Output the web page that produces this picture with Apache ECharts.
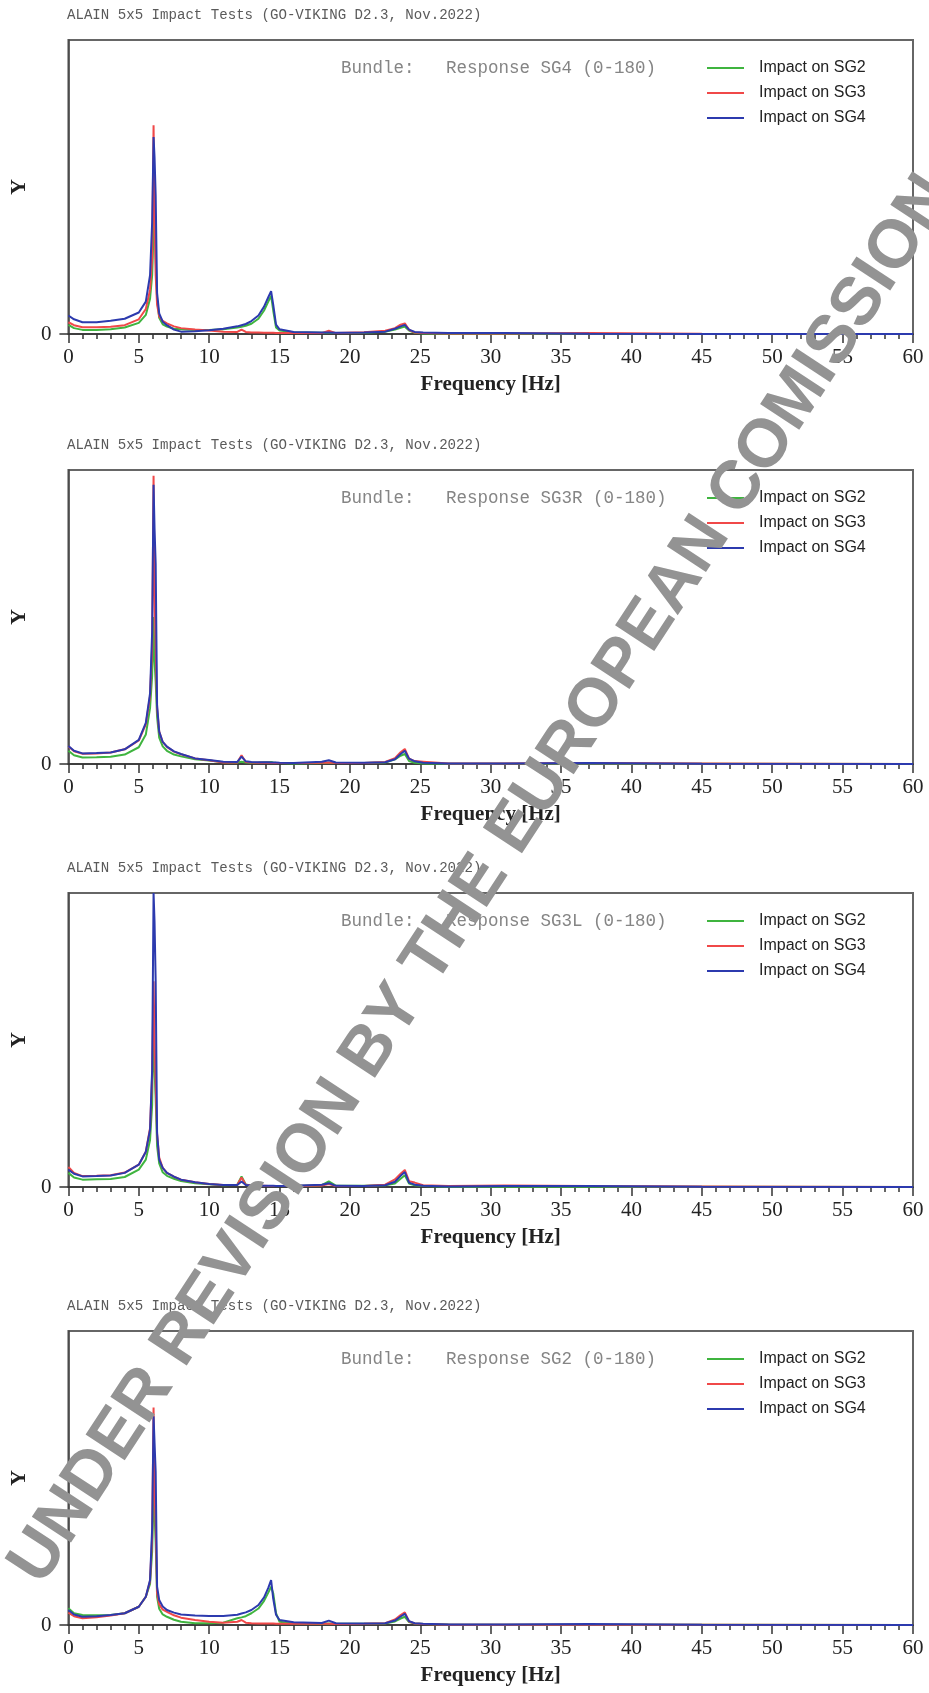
<!DOCTYPE html>
<html style="height: 100%">
<head>
    <meta charset="utf-8" />
    <title>ALAIN 5x5 Impact Tests</title>
    <script type="text/javascript" src="https://cdn.jsdelivr.net/npm/echarts@6/dist/echarts.min.js"></script>
</head>
<body style="height: 100%; margin: 0; background: #fff">
<div id="chart" style="width: 929px; height: 1693px"></div>
<script type="text/javascript">
// frequency grid [Hz], shared by all four panels
var freq = [0, 0.4, 1, 2, 3, 4, 5, 5.5, 5.8, 5.95,
            6.05, 6.12, 6.2, 6.3, 6.45, 6.7, 7, 7.5, 8, 9,
            10, 11, 12, 12.3, 12.6, 13, 13.5, 13.9, 14.2, 14.4,
            14.55, 14.75, 15, 16, 18, 18.5, 19, 21, 22.5, 23.2,
            23.6, 23.9, 24.2, 24.6, 25.2, 27, 31, 37, 45, 60];

// Response SG4
var sg4_imp2 = [3.1, 2.0, 1.4, 1.4, 1.6, 2.2, 3.8, 6.5, 12, 20,
                35, 43, 26, 12, 5.5, 3.3, 2.5, 1.8, 1.6, 1.4,
                1.4, 1.6, 2.2, 2.5, 2.8, 3.5, 5.2, 8.0, 11, 13,
                8, 2.2, 1.2, 0.6, 0.4, 0.4, 0.3, 0.4, 0.8, 1.5,
                2.1, 2.5, 1.2, 0.4, 0.2, 0.1, 0.1, 0.05, 0, 0];
var sg4_imp3 = [4.0, 3.0, 2.3, 2.3, 2.5, 3.0, 5.0, 8.5, 15, 26,
                71, 40, 20, 10, 6, 4.5, 3.6, 2.6, 2.0, 1.5,
                1.2, 0.8, 0.7, 1.5, 0.7, 0.5, 0.5, 0.4, 0.4, 0.4,
                0.4, 0.3, 0.3, 0.3, 0.3, 1.1, 0.3, 0.6, 1.1, 2.0,
                3.2, 3.6, 1.4, 0.5, 0.3, 0.2, 0.2, 0.3, 0.1, 0];
var sg4_imp4 = [6.3, 5.0, 4.0, 4.0, 4.5, 5.2, 7.3, 11, 20, 38,
                67, 60, 47, 14, 7, 4.2, 3.0, 1.5, 0.8, 0.9,
                1.3, 1.8, 2.6, 3.0, 3.4, 4.4, 6.3, 9.3, 12.5, 14.6,
                10, 3.2, 1.6, 0.7, 0.5, 0.5, 0.4, 0.5, 0.8, 1.8,
                2.6, 3.1, 1.5, 0.7, 0.5, 0.3, 0.3, 0.1, 0, 0];

// Response SG3R
var sg3r_imp2 = [4.5, 3.0, 2.2, 2.3, 2.5, 3.2, 5.7, 10, 19, 30,
                 50, 35, 28, 16, 9, 6, 4.5, 3.2, 2.6, 1.6,
                 1.2, 0.6, 0.5, 0.8, 0.5, 0.4, 0.5, 0.6, 0.6, 0.7,
                 0.5, 0.4, 0.3, 0.2, 0.3, 0.4, 0.3, 0.3, 0.5, 1.6,
                 2.8, 3.4, 1.0, 0.4, 0.2, 0.1, 0.1, 0.1, 0.05, 0];
var sg3r_imp3 = [6.0, 4.3, 3.5, 3.6, 3.9, 5.0, 8.0, 13.5, 23, 40,
                 98, 58, 40, 19, 11, 7.5, 5.8, 4.2, 3.3, 1.9,
                 1.3, 0.5, 0.5, 3.0, 0.7, 0.5, 0.4, 0.4, 0.4, 0.3,
                 0.3, 0.3, 0.3, 0.3, 0.4, 0.5, 0.3, 0.3, 0.7, 2.0,
                 4.0, 5.1, 1.8, 1.0, 0.8, 0.2, 0.2, 0.3, 0.2, 0];
var sg3r_imp4 = [6.1, 4.5, 3.6, 3.7, 3.9, 5.0, 8.2, 14, 24, 45,
                 95, 80, 68, 20, 11, 7.5, 5.9, 4.3, 3.4, 1.9,
                 1.4, 0.8, 0.7, 2.5, 0.9, 0.7, 0.6, 0.6, 0.6, 0.5,
                 0.5, 0.5, 0.4, 0.3, 0.8, 1.3, 0.5, 0.4, 0.6, 1.6,
                 3.4, 4.5, 1.8, 0.9, 0.4, 0.2, 0.2, 0.3, 0.1, 0];

// Response SG3L
var sg3l_imp2 = [4.8, 3.2, 2.5, 2.6, 2.7, 3.4, 5.9, 9.3, 16, 28,
                 62, 40, 30, 14, 8, 5, 3.8, 2.8, 2.0, 1.3,
                 0.9, 0.6, 0.8, 3.6, 0.9, 0.4, 0.3, 0.3, 0.3, 0.3,
                 0.3, 0.3, 0.3, 0.3, 0.6, 1.9, 0.5, 0.4, 0.6, 1.2,
                 2.8, 4.0, 1.2, 0.6, 0.3, 0.1, 0.1, 0.1, 0.1, 0];
var sg3l_imp3 = [6.8, 4.8, 3.7, 3.8, 4.0, 4.9, 7.6, 12, 20, 38,
                 70, 50, 35, 18, 10, 6.5, 4.8, 3.5, 2.5, 1.6,
                 1.0, 0.7, 0.8, 3.2, 0.8, 0.5, 0.4, 0.4, 0.3, 0.3,
                 0.3, 0.3, 0.3, 0.3, 0.5, 1.0, 0.3, 0.3, 0.8, 2.6,
                 4.5, 5.8, 2.0, 1.5, 0.6, 0.3, 0.5, 0.3, 0.2, 0];
var sg3l_imp4 = [5.9, 4.5, 3.6, 3.7, 3.9, 4.8, 7.6, 12, 19.5, 40,
                 100, 90, 70, 18.4, 9.3, 6.5, 4.8, 3.5, 2.5, 1.6,
                 1.0, 0.7, 0.7, 1.9, 0.7, 0.5, 0.4, 0.4, 0.4, 0.4,
                 0.4, 0.3, 0.3, 0.4, 0.8, 1.3, 0.4, 0.3, 0.6, 1.8,
                 3.8, 5.1, 1.5, 0.8, 0.4, 0.2, 0.3, 0.3, 0.1, 0];

// Response SG2
var sg2_imp2 = [5.7, 4.0, 3.4, 3.3, 3.4, 4.0, 6.2, 9.6, 14, 25,
                45, 38, 28, 9.6, 5.5, 3.6, 2.8, 1.8, 1.1, 0.6,
                0.6, 0.8, 2.3, 2.6, 3.0, 4.0, 5.6, 8.2, 11, 13,
                10.8, 4, 1.1, 0.5, 0.4, 0.5, 0.4, 0.4, 0.5, 1.2,
                2.2, 2.8, 1.0, 0.5, 0.3, 0.2, 0.1, 0.1, 0.1, 0];
var sg2_imp3 = [4.2, 3.0, 2.3, 2.6, 3.2, 4.0, 6.2, 9.6, 15, 30,
                74, 45, 35, 10.8, 7, 5.2, 4.5, 3.3, 2.5, 1.7,
                1.1, 0.8, 1.1, 1.7, 0.8, 0.6, 0.5, 0.5, 0.5, 0.5,
                0.5, 0.4, 0.4, 0.4, 0.4, 0.4, 0.3, 0.4, 0.6, 1.9,
                3.4, 4.3, 1.2, 0.5, 0.3, 0.1, 0.1, 0.1, 0.1, 0];
var sg2_imp4 = [5.1, 3.6, 2.8, 3.0, 3.4, 4.0, 6.2, 9.6, 15.3, 33,
                71, 62, 52, 13, 8.5, 6.3, 5.1, 4.2, 3.6, 3.2,
                3.1, 3.1, 3.5, 3.9, 4.3, 5.1, 6.8, 9.4, 12.6, 15.3,
                9, 3.5, 1.7, 0.9, 0.7, 1.5, 0.6, 0.5, 0.6, 1.5,
                2.9, 3.8, 1.3, 0.6, 0.4, 0.2, 0.2, 0.3, 0.1, 0];

var seriesNames = ['Impact on SG2', 'Impact on SG3', 'Impact on SG4'];
var seriesColors = ['#3fb43f', '#f04848', '#2c3aae'];
var headerText = 'ALAIN 5x5 Impact Tests (GO-VIKING D2.3, Nov.2022)';
var bundleTexts = ['Bundle:   Response SG4 (0-180)',
                   'Bundle:   Response SG3R (0-180)',
                   'Bundle:   Response SG3L (0-180)',
                   'Bundle:   Response SG2 (0-180)'];
var xTicks = [0, 5, 10, 15, 20, 25, 30, 35, 40, 45, 50, 55, 60];
var panelData = [
  [sg4_imp2, sg4_imp3, sg4_imp4],
  [sg3r_imp2, sg3r_imp3, sg3r_imp4],
  [sg3l_imp2, sg3l_imp3, sg3l_imp4],
  [sg2_imp2, sg2_imp3, sg2_imp4]
];

var frameTops = [40, 470, 893, 1331];
var frameH = 294;
var serif = "'Liberation Serif', 'DejaVu Serif', serif";
var mono = "'Liberation Mono', 'DejaVu Sans Mono', monospace";
var sans = "'Liberation Sans', 'DejaVu Sans', sans-serif";

function pairs(xs, ys) {
  return xs.map(function (x, i) { return [x, ys[i]]; });
}

var myChart = echarts.init(document.getElementById('chart'), null, { renderer: 'canvas' });

var grids = [], xAxes = [], yAxes = [], titles = [], legends = [], series = [];
frameTops.forEach(function (top, p) {
  grids.push({
    left: 67, right: 16, top: top, height: frameH,
    show: true, borderColor: '#666', borderWidth: 2, backgroundColor: '#fff'
  });
  xAxes.push({
    gridIndex: p, type: 'value', min: xTicks[0], max: xTicks[xTicks.length - 1], interval: 5,
    name: 'Frequency [Hz]', nameLocation: 'middle', nameGap: 40,
    nameTextStyle: { fontFamily: serif, fontWeight: 'bold', fontSize: 21, color: '#222' },
    axisLine: { lineStyle: { color: '#333', width: 1.5 } },
    axisTick: { length: 9, lineStyle: { color: '#333', width: 1.5 } },
    minorTick: { show: true, splitNumber: 5, length: 5, lineStyle: { color: '#333', width: 1.5 } },
    axisLabel: { fontFamily: serif, fontSize: 21, color: '#222', margin: 13 },
    splitLine: { show: false }
  });
  yAxes.push({
    gridIndex: p, type: 'value', min: 0, max: 100, interval: 100,
    name: 'Y', nameLocation: 'middle', nameGap: 36,
    nameTextStyle: { fontFamily: serif, fontWeight: 'bold', fontSize: 22, color: '#222' },
    axisLine: { show: true, lineStyle: { color: '#444', width: 1.5 } },
    axisTick: { show: true, length: 9, customValues: [0], lineStyle: { color: '#333', width: 1.5 } },
    axisLabel: {
      fontFamily: serif, fontSize: 21, color: '#222', margin: 17, customValues: [0],
      formatter: function (v) { return v === 0 ? '0' : ''; }
    },
    splitLine: { show: false }
  });
  titles.push({
    text: headerText, left: 67, top: top - 32, padding: 0,
    textStyle: { fontFamily: mono, fontWeight: 'normal', fontSize: 14.1, color: '#5a5a5a' }
  });
  titles.push({
    text: bundleTexts[p], left: 341, top: top + 19, padding: 0,
    textStyle: { fontFamily: mono, fontWeight: 'normal', fontSize: 17.5, color: '#858585' }
  });
  legends.push({
    data: seriesNames, orient: 'vertical', left: 707, top: top + 19, padding: 0,
    icon: 'rect', itemWidth: 37, itemHeight: 2, itemGap: 7, selectedMode: false,
    textStyle: { fontFamily: sans, fontSize: 16, color: '#222', lineHeight: 18, padding: [0, 0, 0, 10] }
  });
  panelData[p].forEach(function (vals, s) {
    series.push({
      name: seriesNames[s], type: 'line', xAxisIndex: p, yAxisIndex: p,
      data: pairs(freq, vals), showSymbol: false, symbol: 'none',
      color: seriesColors[s], lineStyle: { width: 2, color: seriesColors[s] },
      clip: true, animation: false, z: 2 + s
    });
  });
});

var option = {
  backgroundColor: '#fff',
  animation: false,
  title: titles,
  legend: legends,
  grid: grids,
  xAxis: xAxes,
  yAxis: yAxes,
  series: series,
  graphic: [{
    type: 'text', x: 482, y: 880, rotation: 56.8 * Math.PI / 180, z: 100,
    style: {
      text: 'UNDER REVISION BY THE EUROPEAN COMISSION',
      fontFamily: sans, fontWeight: 'bold', fontSize: 68, fill: '#939393',
      align: 'center', verticalAlign: 'middle', textAlign: 'center', textVerticalAlign: 'middle'
    }
  }]
};
myChart.setOption(option);
window.addEventListener('resize', function () {
  myChart.resize();
});
</script>
</body>
</html>
